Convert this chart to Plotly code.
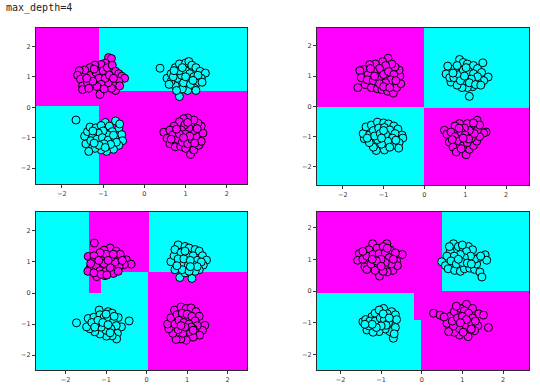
import plotly.graph_objects as go

TITLE = "max_depth=4"
INF = 99.0

# ---------- decision-tree leaves per panel: (x_lo, x_hi, y_lo, y_hi, class)  1 = magenta, 0 = cyan
leaves_1 = [(-INF, -1.10, 0.05, INF, 1), (-INF, -1.10, -INF, 0.05, 0),
            (-1.10, INF, 0.53, INF, 0), (-1.10, INF, -INF, 0.53, 1)]
leaves_2 = [(-INF, -0.01, -0.02, INF, 1), (-INF, -0.01, -INF, -0.02, 0),
            (-0.01, INF, -0.05, INF, 0), (-0.01, INF, -INF, -0.05, 1)]
leaves_3 = [(-INF, -1.42, -INF, INF, 0),
            (-1.42, 0.07, 0.68, INF, 1), (0.07, INF, 0.68, INF, 0),
            (-1.42, -1.12, 0.0, 0.68, 1), (-1.42, -1.12, -INF, 0.0, 0),
            (-1.12, 0.04, -INF, 0.68, 0), (0.04, INF, -INF, 0.68, 1)]
leaves_4 = [(-INF, 0.49, -0.06, INF, 1), (0.49, INF, 0.0, INF, 0), (0.49, INF, -0.06, 0.0, 1),
            (-INF, -0.19, -INF, -0.06, 0), (-0.19, -0.02, -INF, -0.92, 0),
            (-0.19, -0.02, -0.92, -0.06, 1), (-0.02, 0.49, -INF, -0.06, 1), (0.49, INF, -INF, -0.06, 1)]

# ---------- axis ranges per panel
xrange_1, yrange_1 = [-2.63, 2.49], [-2.52, 2.60]
xrange_2, yrange_2 = [-2.63, 2.56], [-2.60, 2.59]
xrange_3, yrange_3 = [-2.73, 2.48], [-2.48, 2.61]
xrange_4, yrange_4 = [-2.58, 2.64], [-2.49, 2.49]

# ---------- scatter points
p1_mag_x = [-0.87,-0.80,-0.95,-1.05,-1.20,-1.32,-1.45,-1.58,-1.62,-1.55,-1.50,-1.50,-1.38,-1.30,-1.18,-1.10,-1.00,-0.90,-0.78,-0.70,-0.62,-0.55,-0.48,-0.62,-0.72,-0.70,-0.80,-0.88,-0.95,-1.05,-1.15,-1.25,-1.40,-1.08,-0.85,-0.75,-1.22,-0.98,-0.60,-1.35]
p1_mag_y = [1.63,1.60,1.45,1.40,1.38,1.30,1.22,1.20,1.05,0.92,0.70,0.58,0.80,1.05,1.15,0.95,1.20,1.30,1.38,1.18,1.10,1.02,0.95,0.85,0.70,0.55,0.62,0.80,0.95,0.75,0.68,0.85,0.95,0.42,1.05,0.95,1.25,0.60,0.70,0.62]
p1_cyn_x = [0.38,0.55,0.65,0.75,0.85,1.00,1.08,1.15,1.25,1.35,1.48,1.38,1.28,1.22,1.05,0.92,0.85,0.75,0.65,0.80,0.90,1.00,1.10,1.20,1.05,0.95,1.12,0.70,0.85,1.30,0.60,1.00,1.18,0.78,1.40,0.92,0.72,1.25]
p1_cyn_y = [1.28,0.95,1.10,1.30,1.42,1.45,1.50,1.38,1.30,1.18,1.12,0.95,0.80,0.62,0.55,0.60,0.35,0.70,0.85,0.95,1.05,1.20,1.10,1.00,0.90,0.80,0.75,1.00,1.20,1.05,0.75,1.00,0.88,0.55,0.82,1.30,1.20,0.55]
p1_cyn2_x = [-1.66,-0.95,-0.70,-0.62,-0.55,-0.53,-0.62,-0.75,-0.92,-1.05,-1.20,-1.35,-1.42,-1.45,-1.38,-1.32,-1.18,-1.05,-0.85,-0.78,-0.90,-1.00,-1.12,-1.25,-1.30,-1.15,-1.02,-0.88,-0.72,-0.68,-0.82,-0.98,-1.10,-1.22,-0.60,-1.25,-0.95,-0.75]
p1_cyn2_y = [-0.42,-0.50,-0.45,-0.68,-0.90,-1.10,-1.25,-1.38,-1.45,-1.40,-1.35,-1.45,-1.20,-0.95,-0.80,-0.65,-0.68,-0.60,-0.62,-0.80,-0.90,-0.78,-0.85,-0.95,-1.10,-1.05,-1.00,-1.08,-1.00,-1.15,-1.22,-1.20,-1.25,-1.18,-0.55,-0.78,-1.32,-0.92]
p1_mag2_x = [0.47,0.55,0.62,0.75,0.88,1.00,1.12,1.20,1.32,1.38,1.42,1.38,1.30,1.20,1.05,0.95,0.85,0.72,0.62,0.70,0.80,0.92,1.05,1.15,1.25,1.18,1.08,0.98,0.90,1.00,1.10,0.85,0.95,1.28,0.78,1.05,0.65,1.22]
p1_mag2_y = [-0.82,-1.02,-1.20,-1.30,-1.28,-1.35,-1.55,-1.40,-1.25,-1.12,-0.85,-0.62,-0.52,-0.42,-0.35,-0.38,-0.48,-0.62,-0.75,-0.90,-1.05,-1.15,-1.20,-1.05,-0.95,-0.78,-0.68,-0.58,-0.75,-0.88,-0.95,-0.88,-1.00,-0.70,-0.72,-0.50,-1.05,-1.18]

p2_mag_x = [-0.89,-1.02,-1.20,-1.34,-1.48,-1.58,-1.55,-1.63,-1.45,-1.30,-1.15,-1.04,-0.90,-0.76,-0.68,-0.58,-0.60,-0.62,-0.72,-0.80,-0.95,-1.10,-1.25,-1.38,-1.40,-1.25,-1.12,-1.00,-0.88,-0.75,-0.82,-0.95,-1.10,-1.22,-1.00,-0.70,-1.32,-0.85]
p2_mag_y = [1.59,1.48,1.40,1.38,1.22,1.18,0.95,0.62,0.72,0.62,0.58,0.55,0.50,0.44,0.62,0.75,1.00,1.20,1.30,1.40,1.35,1.25,1.15,1.05,0.88,0.85,0.95,1.05,1.15,1.05,0.88,0.78,0.75,1.00,0.65,0.85,1.25,0.62]
p2_cyn_x = [0.57,0.53,0.65,0.62,0.75,0.86,0.95,1.05,1.20,1.30,1.43,1.40,1.56,1.45,1.30,1.18,1.05,1.10,0.92,0.80,0.72,0.85,0.95,1.08,1.20,1.30,1.15,1.00,0.88,0.98,1.10,0.80,1.25,1.38,0.70,1.02]
p2_cyn_y = [1.33,1.07,0.80,0.95,1.25,1.55,1.45,1.40,1.35,1.25,1.44,1.12,0.97,0.85,0.80,0.65,0.62,0.33,0.62,0.70,0.95,1.05,1.20,1.15,1.08,0.98,0.90,0.85,0.85,1.00,0.78,1.35,0.72,0.70,1.10,1.28]
p2_cyn2_x = [-1.47,-1.50,-1.43,-1.30,-1.15,-1.00,-0.88,-0.75,-0.65,-0.55,-0.53,-0.62,-0.63,-0.80,-0.98,-1.18,-1.25,-1.35,-1.35,-1.25,-1.12,-0.98,-0.85,-0.72,-0.78,-0.90,-1.05,-1.15,-1.22,-1.08,-0.95,-0.85,-1.40,-0.70,-1.05,-1.00]
p2_cyn2_y = [-1.07,-0.90,-0.68,-0.62,-0.52,-0.55,-0.58,-0.65,-0.75,-0.95,-1.05,-1.20,-1.38,-1.30,-1.44,-1.46,-1.35,-1.20,-0.95,-0.80,-0.72,-0.70,-0.78,-0.90,-1.05,-1.15,-1.25,-1.10,-0.98,-0.90,-0.92,-1.35,-1.05,-1.12,-1.05,-0.80]
p2_mag2_x = [1.29,1.51,1.45,0.49,0.55,0.61,0.70,0.78,1.02,1.10,1.20,1.28,1.35,1.30,1.15,1.05,0.86,0.75,0.65,0.75,0.85,0.95,1.05,1.15,1.22,1.10,0.98,0.90,1.00,0.90,0.85,1.35,1.08,0.68,1.20,0.95]
p2_mag2_y = [-0.46,-0.85,-0.88,-0.79,-0.92,-1.18,-1.35,-1.51,-1.60,-1.42,-1.30,-1.15,-1.00,-0.78,-0.62,-0.57,-0.57,-0.65,-0.85,-1.00,-1.15,-1.30,-1.20,-1.05,-0.90,-0.80,-0.72,-0.85,-0.95,-1.40,-0.72,-0.62,-1.08,-1.10,-0.55,-1.05]

p3_mag_x = [-1.29,-1.44,-1.40,-1.45,-1.23,-1.03,-0.82,-0.90,-1.05,-0.75,-0.65,-0.50,-0.38,-0.55,-0.68,-0.78,-0.88,-1.00,-1.15,-1.30,-1.35,-1.25,-1.15,-1.00,-0.90,-1.05,-1.18,-0.95,-0.82,-1.30,-0.70,-1.12,-0.60,-1.38,-0.98]
p3_mag_y = [1.61,1.18,0.80,0.70,0.53,0.56,0.63,1.45,1.38,1.35,1.25,1.07,0.93,0.92,0.85,1.00,1.15,1.25,1.30,1.20,1.00,0.88,0.72,0.70,0.82,0.95,1.05,1.05,1.25,0.65,0.70,0.60,1.05,0.95,0.58]
p3_cyn_x = [0.78,0.95,1.05,1.20,1.30,1.38,1.48,1.40,1.30,1.12,0.82,0.95,0.70,0.60,0.68,0.70,0.85,1.00,1.15,1.25,1.15,1.00,0.85,0.78,0.92,1.08,1.20,0.88,1.05,1.35,0.75,0.95,1.25,1.08]
p3_cyn_y = [1.55,1.50,1.45,1.40,1.35,1.20,1.06,0.90,0.75,0.47,0.50,0.65,0.75,1.01,1.20,1.40,1.30,1.25,1.20,1.05,0.90,0.88,0.95,1.10,1.10,1.05,0.70,0.75,0.70,1.00,0.88,1.35,0.85,0.85]
p3_cyn2_x = [-1.73,-0.43,-1.17,-0.95,-0.85,-0.70,-0.62,-0.72,-0.74,-0.85,-0.99,-1.15,-1.28,-1.40,-1.48,-1.44,-1.30,-1.15,-1.05,-0.95,-0.82,-0.75,-0.88,-1.00,-1.12,-1.25,-1.35,-1.20,-1.08,-0.95,-1.00,-1.28,-0.80,-0.90]
p3_cyn2_y = [-0.96,-0.90,-0.55,-0.60,-0.65,-0.79,-1.09,-1.30,-1.48,-1.38,-1.39,-1.32,-1.25,-1.15,-1.09,-0.82,-0.78,-0.70,-0.78,-0.85,-0.92,-1.05,-1.15,-1.20,-1.10,-1.00,-0.95,-0.88,-0.95,-1.02,-0.68,-1.10,-0.75,-1.28]
p3_mag2_x = [0.69,0.85,0.98,1.10,1.22,1.30,1.44,1.38,1.31,1.15,0.98,0.85,0.73,0.65,0.55,0.52,0.60,0.75,0.88,1.00,1.12,1.20,1.25,1.15,1.05,0.90,0.78,0.70,0.80,0.92,1.05,1.10,0.95,0.85,1.15]
p3_mag2_y = [-0.55,-0.45,-0.50,-0.48,-0.60,-0.75,-1.04,-1.20,-1.36,-1.42,-1.52,-1.48,-1.50,-1.30,-1.15,-1.00,-0.80,-0.70,-0.65,-0.68,-0.75,-0.90,-1.05,-1.15,-1.25,-1.30,-1.18,-1.00,-0.88,-0.95,-1.00,-1.10,-1.10,-1.05,-1.20]

p4_mag_x = [-1.21,-0.86,-1.54,-1.58,-0.59,-0.48,-0.71,-1.04,-1.40,-1.35,-1.30,-1.10,-0.95,-0.78,-0.65,-0.62,-0.60,-0.85,-0.95,-1.15,-1.25,-1.45,-1.35,-1.20,-1.05,-0.90,-0.80,-0.75,-0.90,-1.00,-1.12,-1.22,-1.00,-0.85,-1.45,-0.70]
p4_mag_y = [1.49,1.49,1.18,0.97,1.14,1.15,0.65,0.47,0.76,0.68,1.30,1.35,1.40,1.30,1.20,0.95,0.80,0.60,0.62,0.65,0.85,1.00,1.10,1.15,1.18,1.20,1.05,0.85,0.90,1.00,0.95,1.00,0.78,1.35,1.25,1.00]
p4_cyn_x = [0.78,0.90,1.02,1.15,1.25,1.10,0.70,0.62,0.49,0.58,0.65,0.81,0.95,1.05,1.18,1.30,1.43,1.48,1.35,1.40,1.56,1.60,1.30,1.20,1.05,0.95,0.80,0.72,0.85,1.00,1.12,1.22,0.90,1.45,0.68,1.00]
p4_cyn_y = [1.49,1.40,1.35,1.40,1.30,1.25,1.25,1.10,0.92,0.80,0.70,0.65,0.62,0.70,0.72,0.68,0.60,0.44,0.85,1.05,1.14,0.97,1.00,1.10,1.05,1.15,1.10,0.95,0.85,0.90,0.88,0.85,1.00,1.10,1.40,1.45]
p4_cyn2_x = [-0.94,-0.74,-0.70,-0.70,-0.78,-1.35,-1.45,-1.23,-1.15,-1.05,-0.85,-0.65,-0.62,-0.65,-0.68,-0.90,-1.05,-1.20,-1.30,-1.38,-1.28,-1.15,-1.02,-0.92,-0.82,-0.88,-1.00,-1.12,-0.95,-1.22,-0.80,-1.40]
p4_cyn2_y = [-0.55,-0.65,-1.02,-1.49,-1.28,-1.23,-0.97,-0.81,-0.70,-0.60,-0.72,-0.75,-0.90,-1.15,-1.35,-1.20,-1.28,-1.30,-1.10,-0.90,-0.95,-0.95,-0.85,-0.90,-1.00,-1.08,-1.10,-1.15,-0.72,-1.05,-0.85,-1.05]
p4_mag2_x = [0.29,0.45,1.10,1.25,1.40,1.52,1.64,1.38,1.30,1.14,0.93,0.80,0.66,0.62,0.70,0.80,0.95,1.05,1.15,1.25,1.18,1.05,0.92,0.78,0.75,0.88,1.00,1.10,0.95,1.22,1.02,0.85,1.32,0.55]
p4_mag2_y = [-0.70,-0.76,-0.42,-0.55,-0.72,-0.76,-1.15,-1.10,-1.25,-1.44,-1.39,-1.30,-1.28,-1.02,-0.80,-0.65,-0.55,-0.62,-0.70,-0.85,-1.00,-1.10,-1.18,-1.10,-0.95,-0.85,-0.80,-0.90,-1.00,-1.20,-1.30,-0.48,-0.95,-0.82]

panels = [
    dict(leaves=leaves_1, xr=xrange_1, yr=yrange_1,
         pts=[(p1_mag_x, p1_mag_y, 1), (p1_cyn_x, p1_cyn_y, 0), (p1_cyn2_x, p1_cyn2_y, 0), (p1_mag2_x, p1_mag2_y, 1)]),
    dict(leaves=leaves_2, xr=xrange_2, yr=yrange_2,
         pts=[(p2_mag_x, p2_mag_y, 1), (p2_cyn_x, p2_cyn_y, 0), (p2_cyn2_x, p2_cyn2_y, 0), (p2_mag2_x, p2_mag2_y, 1)]),
    dict(leaves=leaves_3, xr=xrange_3, yr=yrange_3,
         pts=[(p3_mag_x, p3_mag_y, 1), (p3_cyn_x, p3_cyn_y, 0), (p3_cyn2_x, p3_cyn2_y, 0), (p3_mag2_x, p3_mag2_y, 1)]),
    dict(leaves=leaves_4, xr=xrange_4, yr=yrange_4,
         pts=[(p4_mag_x, p4_mag_y, 1), (p4_cyn_x, p4_cyn_y, 0), (p4_cyn2_x, p4_cyn2_y, 0), (p4_mag2_x, p4_mag2_y, 1)]),
]

CYAN = "#00ffff"
MAGENTA = "#ff00ff"
W, H = 540, 387
# panel boxes in pixels (left, right, top, bottom)
boxes = [(36, 247, 28, 184), (317, 529, 28, 185), (36, 247, 212, 370), (317, 529, 212, 370)]

fig = go.Figure()
layout_axes = {}
for i, (p, box) in enumerate(zip(panels, boxes), start=1):
    xa = "x" if i == 1 else f"x{i}"
    ya = "y" if i == 1 else f"y{i}"
    xr, yr = p["xr"], p["yr"]
    xs = sorted(set([xr[0], xr[1]] + [v for lf in p["leaves"] for v in lf[:2] if xr[0] < v < xr[1]]))
    ys = sorted(set([yr[0], yr[1]] + [v for lf in p["leaves"] for v in lf[2:4] if yr[0] < v < yr[1]]))
    z = []
    for j in range(len(ys) - 1):
        cy = (ys[j] + ys[j + 1]) / 2
        row = []
        for k in range(len(xs) - 1):
            cx = (xs[k] + xs[k + 1]) / 2
            c = 0
            for (x0, x1, y0, y1, cls) in p["leaves"]:
                if x0 <= cx < x1 and y0 <= cy < y1:
                    c = cls
                    break
            row.append(c)
        z.append(row)
    fig.add_trace(go.Heatmap(x=xs, y=ys, z=z, zmin=0, zmax=1, showscale=False,
                             colorscale=[[0, CYAN], [1, MAGENTA]], hoverinfo="skip",
                             xaxis=xa, yaxis=ya))
    for (px, py, cls) in p["pts"]:
        fig.add_trace(go.Scatter(x=px, y=py, mode="markers", xaxis=xa, yaxis=ya, showlegend=False,
                                 marker=dict(size=8, color=MAGENTA if cls else CYAN,
                                             line=dict(color="black", width=1))))
    l, r, t, b = box
    axcommon = dict(showgrid=False, zeroline=False, showline=True, mirror=True,
                    linecolor="#2a2a2a", linewidth=1, ticks="outside", ticklen=3,
                    tickwidth=0.8, tickcolor="#333", dtick=1, tick0=0,
                    tickfont=dict(family="DejaVu Sans", size=6.5, color="#333"))
    layout_axes["xaxis" if i == 1 else f"xaxis{i}"] = dict(
        axcommon, domain=[l / W, r / W], range=xr, anchor=ya)
    layout_axes["yaxis" if i == 1 else f"yaxis{i}"] = dict(
        axcommon, domain=[1 - b / H, 1 - t / H], range=yr, anchor=xa)

fig.update_layout(
    width=W, height=H, margin=dict(l=0, r=0, t=0, b=0),
    paper_bgcolor="white", plot_bgcolor="white", showlegend=False,
    annotations=[dict(text=TITLE, xref="paper", yref="paper", x=4 / W, y=1 - 8 / H,
                      xanchor="left", yanchor="middle", showarrow=False,
                      font=dict(family="DejaVu Sans Mono", size=10, color="#222"))],
    **layout_axes)

fig.write_html("out.html")
